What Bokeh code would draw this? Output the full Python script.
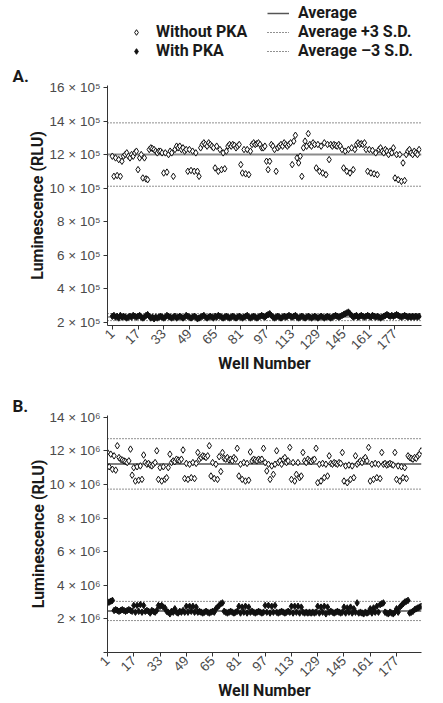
import math
from bokeh.plotting import figure
from bokeh.models import (FixedTicker, CustomJSTickFormatter, Span, Legend,
                          LegendItem, Range1d)
from bokeh.core.properties import value
from bokeh.layouts import column
from bokeh.embed import file_html
from bokeh.resources import INLINE

# ---------------- data ----------------
x_ticks = [1, 17, 33, 49, 65, 81, 97, 113, 129, 145, 161, 177]
a_y_ticks = [2, 4, 6, 8, 10, 12, 14, 16]          # x 10^5 RLU
b_y_ticks = [0, 2, 4, 6, 8, 10, 12, 14]           # x 10^6 RLU

# Panel A (x 10^5 RLU)
a_without = [
    11.9, 10.7, 11.8, 10.75, 11.7, 10.7, 11.6, 11.9, 12.0, 12.1, 11.9, 11.8, 12.0, 11.9, 12.1, 12.2,
    11.1, 11.8, 12.0, 10.6, 11.8, 10.55, 10.5, 12.3, 12.4, 12.35, 12.3, 12.2, 12.1, 12.2, 12.2, 12.1,
    10.9, 12.1, 10.95, 12.0, 12.2, 12.1, 10.7, 12.3, 12.5, 12.4, 12.5, 12.3, 12.4, 12.2, 12.3, 11.0,
    12.3, 11.05, 12.2, 11.0, 12.1, 11.0, 10.7, 12.4, 12.6, 12.7, 12.6, 12.5, 12.7, 12.6, 12.5, 12.4,
    11.2, 12.5, 11.0, 12.3, 11.1, 12.1, 11.15, 12.2, 12.5, 12.6, 12.5, 12.6, 12.55, 12.4, 12.5, 12.6,
    11.4, 10.9, 12.3, 10.85, 12.3, 10.8, 12.2, 12.6, 12.7, 12.6, 12.65, 12.7, 12.6, 12.4, 12.4, 12.5,
    11.6, 11.1, 11.6, 12.6, 12.5, 12.3, 11.0, 12.4, 12.5, 12.6, 12.5, 12.7, 12.6, 12.5, 12.6, 12.7,
    11.4, 12.8, 13.15, 11.8, 11.5, 11.9, 10.7, 12.4, 12.8, 12.5, 13.25, 12.6, 12.5, 12.7, 12.6, 11.2,
    12.6, 11.0, 12.5, 10.9, 12.7, 10.8, 12.6, 11.7, 12.6, 12.5, 12.6, 12.55, 12.5, 12.6, 12.5, 12.3,
    11.2, 12.2, 11.0, 12.3, 10.9, 12.4, 11.1, 12.3, 12.6, 12.7, 12.6, 12.65, 12.6, 12.7, 12.3, 11.0,
    12.3, 10.9, 12.25, 10.85, 12.1, 10.8, 12.3, 12.4, 12.2, 12.1, 12.3, 12.2, 12.0, 12.2, 12.1, 12.4,
    10.6, 12.0, 10.5, 12.0, 10.4, 11.5, 10.45, 12.0, 12.2, 12.3, 12.1, 12.0, 12.2, 12.1, 12.0, 12.3,
]
a_with = [
    2.35, 2.4, 2.3, 2.35, 2.25, 2.4, 2.3, 2.35, 2.3, 2.25, 2.3, 2.35, 2.3, 2.4, 2.35, 2.3,
    2.35, 2.4, 2.3, 2.25, 2.3, 2.4, 2.45, 2.35, 2.25, 2.3, 2.2, 2.3, 2.25, 2.3, 2.35, 2.3,
    2.25, 2.3, 2.4, 2.35, 2.3, 2.25, 2.3, 2.35, 2.25, 2.3, 2.35, 2.3, 2.25, 2.3, 2.4, 2.35,
    2.3, 2.25, 2.3, 2.35, 2.3, 2.2, 2.25, 2.3, 2.35, 2.4, 2.3, 2.25, 2.3, 2.35, 2.3, 2.25,
    2.35, 2.3, 2.4, 2.35, 2.3, 2.25, 2.3, 2.35, 2.3, 2.25, 2.3, 2.35, 2.3, 2.25, 2.3, 2.35,
    2.3, 2.25, 2.3, 2.35, 2.4, 2.3, 2.25, 2.3, 2.35, 2.3, 2.25, 2.3, 2.35, 2.4, 2.35, 2.3,
    2.4, 2.45, 2.5, 2.4, 2.3, 2.25, 2.3, 2.35, 2.3, 2.25, 2.3, 2.35, 2.3, 2.35, 2.4, 2.35,
    2.3, 2.35, 2.4, 2.3, 2.25, 2.3, 2.35, 2.3, 2.25, 2.3, 2.35, 2.3, 2.25, 2.3, 2.35, 2.3,
    2.25, 2.3, 2.35, 2.3, 2.25, 2.3, 2.35, 2.3, 2.25, 2.3, 2.35, 2.4, 2.35, 2.3, 2.35, 2.4,
    2.45, 2.5, 2.55, 2.6, 2.5, 2.4, 2.3, 2.35, 2.4, 2.3, 2.35, 2.4, 2.35, 2.3, 2.35, 2.4,
    2.35, 2.3, 2.4, 2.35, 2.3, 2.35, 2.3, 2.25, 2.3, 2.35, 2.4, 2.45, 2.4, 2.35, 2.4, 2.35,
    2.4, 2.45, 2.4, 2.35, 2.3, 2.35, 2.4, 2.35, 2.3, 2.35, 2.3, 2.35, 2.3, 2.35, 2.3, 2.35,
]
a_without_avg, a_without_sd = 12.0, 0.63
a_with_avg, a_with_sd = 2.3, 0.07

# Panel B (x 10^6 RLU)
b_without = [
    11.9, 11.05, 11.8, 10.9, 11.7, 10.85, 12.3, 11.6, 11.5, 11.45, 11.4, 11.35, 11.3, 11.4, 12.1, 10.55,
    11.0, 10.2, 11.05, 10.25, 11.1, 10.3, 11.75, 11.3, 11.2, 11.25, 11.15, 11.1, 11.2, 11.3, 12.0, 10.3,
    11.0, 10.2, 11.05, 10.3, 10.4, 11.0, 11.8, 11.3, 11.4, 11.35, 11.5, 11.45, 11.4, 11.5, 12.05, 10.35,
    11.25, 10.3, 11.2, 10.4, 11.3, 10.35, 11.25, 11.9, 11.5, 11.6, 11.7, 11.65, 11.6, 11.7, 12.3, 10.5,
    11.3, 10.35, 11.2, 10.3, 11.65, 10.77, 11.9, 11.55, 11.5, 11.6, 11.45, 11.5, 11.4, 11.6, 11.5, 12.15,
    10.5, 11.2, 10.3, 11.3, 10.2, 11.25, 10.25, 11.93, 11.4, 11.5, 11.45, 11.4, 11.5, 11.45, 11.5, 12.15,
    11.3, 10.8, 11.2, 10.3, 11.1, 10.6, 11.2, 12.0, 11.3, 11.4, 11.2, 11.5, 11.6, 11.3, 11.4, 12.2,
    10.3, 11.3, 10.2, 10.6, 11.3, 10.4, 10.5, 11.9, 11.4, 11.3, 11.5, 11.4, 11.35, 11.45, 11.5, 12.15,
    10.1, 11.2, 10.2, 11.25, 10.4, 11.2, 10.5, 11.7, 11.25, 11.2, 11.3, 11.25, 11.2, 11.3, 11.25, 11.9,
    10.2, 11.1, 10.1, 11.15, 10.3, 11.1, 10.4, 11.7, 11.2, 11.3, 11.4, 11.3, 11.5, 11.6, 11.4, 12.2,
    10.2, 11.2, 10.3, 11.25, 10.4, 11.2, 10.35, 11.9, 11.2, 11.25, 11.15, 11.2, 11.25, 11.2, 11.15, 11.9,
    10.3, 11.1, 10.2, 11.05, 10.4, 11.0, 10.35, 11.7, 11.6, 11.55, 11.5, 11.6, 11.55, 11.7, 11.8, 12.0,
]
b_with = [
    2.95, 3.0, 3.05, 3.1, 2.5, 2.55, 2.5, 2.45, 2.5, 2.55, 2.5, 2.45, 2.5, 2.55, 2.5, 2.45,
    2.8, 2.4, 2.8, 2.45, 2.85, 2.4, 2.8, 2.45, 2.5, 2.45, 2.35, 2.5, 2.45, 2.4, 2.5, 2.8,
    2.75, 2.8, 2.7, 2.65, 2.45, 2.4, 2.3, 2.45, 2.4, 2.6, 2.4, 2.35, 2.45, 2.4, 2.5, 2.4,
    2.75, 2.4, 2.75, 2.45, 2.75, 2.4, 2.7, 2.4, 2.45, 2.4, 2.35, 2.4, 2.45, 2.4, 2.35, 2.4,
    2.45, 2.4, 2.6, 2.7, 2.8, 2.9, 2.95, 2.45, 2.4, 2.35, 2.4, 2.45, 2.4, 2.35, 2.4, 2.45,
    2.75, 2.35, 2.7, 2.4, 2.75, 2.35, 2.7, 2.4, 2.45, 2.4, 2.35, 2.4, 2.45, 2.4, 2.35, 2.4,
    2.8, 2.4, 2.8, 2.35, 2.75, 2.4, 2.8, 2.4, 2.35, 2.4, 2.45, 2.4, 2.35, 2.4, 2.45, 2.4,
    2.75, 2.35, 2.75, 2.4, 2.75, 2.35, 2.7, 2.4, 2.35, 2.4, 2.35, 2.4, 2.35, 2.4, 2.35, 2.4,
    2.75, 2.35, 2.7, 2.4, 2.75, 2.3, 2.7, 2.4, 2.45, 2.4, 2.35, 2.4, 2.45, 2.4, 2.35, 2.4,
    2.7, 2.35, 2.65, 2.4, 2.7, 2.35, 2.6, 2.4, 2.95, 2.35, 2.4, 2.35, 2.3, 2.4, 2.35, 2.4,
    2.6, 2.35, 2.65, 2.4, 2.75, 2.4, 2.85, 2.9, 2.95, 2.4, 2.35, 2.3, 2.4, 2.35, 2.3, 2.4,
    2.6, 2.4, 2.7, 2.8, 2.9, 3.0, 3.05, 3.1, 2.35, 2.4, 2.45, 2.55, 2.6, 2.65, 2.7, 2.75,
]
b_without_avg, b_without_sd = 11.22, 0.5
b_with_avg, b_with_sd = 2.47, 0.19

legend_markers = ["Without PKA", "With PKA"]
legend_lines = ["Average", "Average +3 S.D.", "Average \u20133 S.D."]
panel_titles = ["A.", "B."]

# ---------------- styling ----------------
LABEL_FONT = "Roboto"
TICK_FONT = "Liberation Sans"
TICK_COLOR = "#4a4a4a"
AXIS_COLOR = "#333333"
DOT = "1 2"
MSIZE = 6.5
NAN = float("nan")


def style_axes(p, y_ticks, exp_sym):
    p.xgrid.visible = False
    p.ygrid.visible = False
    p.outline_line_color = None
    for ax in (p.xaxis[0], p.yaxis[0]):
        ax.axis_line_color = AXIS_COLOR
        ax.axis_line_width = 1
        ax.major_tick_line_color = AXIS_COLOR
        ax.major_tick_in = 0
        ax.major_tick_out = 4
        ax.minor_tick_line_color = None
        ax.major_label_text_font = TICK_FONT
        ax.major_label_text_font_size = "13.5px"
        ax.major_label_text_color = TICK_COLOR
        ax.axis_label_text_font = LABEL_FONT
        ax.axis_label_text_font_style = "bold"
        ax.axis_label_text_font_size = "16px"
        ax.axis_label_text_color = "#1a1a1a"
    p.xaxis.ticker = FixedTicker(ticks=x_ticks)
    p.xaxis.major_label_orientation = math.pi / 4
    p.xaxis.major_label_standoff = 2
    p.xaxis.axis_label = "Well Number"
    p.xaxis.axis_label_standoff = -3
    p.yaxis.ticker = FixedTicker(ticks=y_ticks)
    p.yaxis.formatter = CustomJSTickFormatter(
        code="return tick == 0 ? '' : tick + ' \u00d7 10' + '%s';" % exp_sym)
    p.yaxis.major_label_standoff = 3
    p.yaxis.axis_label = "Luminescence (RLU)"
    p.yaxis.axis_label_standoff = -1


def style_title(p, text):
    p.title.text = text
    p.title.align = "left"
    p.title.offset = -95
    p.title.standoff = 0
    p.title.text_font = LABEL_FONT
    p.title.text_font_style = "bold"
    p.title.text_font_size = "17px"
    p.title.text_color = "#1a1a1a"


def add_stat_lines(p, avg, sd, avg_color, avg_width):
    p.add_layout(Span(location=avg, dimension="width", line_color=avg_color,
                      line_width=avg_width, level="underlay"))
    for loc in (avg + 3 * sd, avg - 3 * sd):
        p.add_layout(Span(location=loc, dimension="width", line_color="#222222",
                          line_width=1, line_dash=DOT, level="underlay"))


wells = list(range(1, len(a_without) + 1))
W = 443

# ---------------- Legend strip ----------------
# (its frame is aligned with the panels' frames, which start 107 px from the left)
pL = figure(width=W, height=62, x_range=Range1d(0, 1), y_range=Range1d(0, 1),
            output_backend="svg", toolbar_location=None, tools="",
            min_border=0, x_axis_location=None, y_axis_location=None)
pL.xgrid.visible = False
pL.ygrid.visible = False
pL.outline_line_color = None
rL_without = pL.scatter(x=[NAN], y=[NAN], marker="diamond", size=MSIZE,
                        fill_color="white", line_color="#111111", line_width=1)
rL_with = pL.scatter(x=[NAN], y=[NAN], marker="diamond", size=MSIZE,
                     fill_color="#111111", line_color="#111111", line_width=1)
rL_avg = pL.line(x=[NAN, NAN], y=[NAN, NAN], line_color="#555555", line_width=1.5)
rL_up = pL.line(x=[NAN, NAN], y=[NAN, NAN], line_color="#222222", line_width=1, line_dash=DOT)
rL_lo = pL.line(x=[NAN, NAN], y=[NAN, NAN], line_color="#222222", line_width=1, line_dash=DOT)

leg_common = dict(border_line_color=None, background_fill_alpha=0, padding=0,
                  margin=0, spacing=0, glyph_height=14, label_height=14,
                  label_text_font=LABEL_FONT, label_text_font_style="bold",
                  label_text_font_size="16px", label_text_color="#1a1a1a")
leg_left = Legend(items=[LegendItem(label=value(legend_markers[0]), renderers=[rL_without]),
                         LegendItem(label=value(legend_markers[1]), renderers=[rL_with])],
                  location=(22, 2), glyph_width=14, label_standoff=13, **leg_common)
leg_right = Legend(items=[LegendItem(label=value(legend_lines[0]), renderers=[rL_avg]),
                          LegendItem(label=value(legend_lines[1]), renderers=[rL_up]),
                          LegendItem(label=value(legend_lines[2]), renderers=[rL_lo])],
                   location=(160, 2), glyph_width=22, label_standoff=9, **leg_common)
pL.add_layout(leg_left)
pL.add_layout(leg_right)

# ---------------- Panel A ----------------
pA = figure(width=W, height=330, x_range=Range1d(-2, 193.5),
            y_range=Range1d(1.8, 16.12), output_backend="svg",
            toolbar_location=None, tools="",
            min_border_left=107, min_border_right=20,
            min_border_top=23, min_border_bottom=67)
style_axes(pA, a_y_ticks, "\u2075")
style_title(pA, panel_titles[0])
add_stat_lines(pA, a_without_avg, a_without_sd, "#8c8c8c", 2)
add_stat_lines(pA, a_with_avg, a_with_sd, "#8c8c8c", 1.5)
pA.scatter(wells, a_without, marker="diamond", size=MSIZE,
           fill_color="white", line_color="#111111", line_width=1)
pA.scatter(wells, a_with, marker="diamond", size=MSIZE,
           fill_color="#111111", line_color="#111111", line_width=1)

# ---------------- Panel B ----------------
pB = figure(width=W, height=310, x_range=Range1d(1, 192.2),
            y_range=Range1d(0, 14.1), output_backend="svg",
            toolbar_location=None, tools="",
            min_border_left=107, min_border_right=22,
            min_border_top=23, min_border_bottom=48)
style_axes(pB, b_y_ticks, "\u2076")
style_title(pB, panel_titles[1])
add_stat_lines(pB, b_without_avg, b_without_sd, "#555555", 1.5)
add_stat_lines(pB, b_with_avg, b_with_sd, "#555555", 1.5)
pB.scatter(wells, b_without, marker="diamond", size=MSIZE,
           fill_color="white", line_color="#111111", line_width=1)
pB.scatter(wells, b_with, marker="diamond", size=MSIZE,
           fill_color="#111111", line_color="#111111", line_width=1)

layout = column(pL, pA, pB, spacing=0)
open("out.html", "w").write(file_html(layout, INLINE))
